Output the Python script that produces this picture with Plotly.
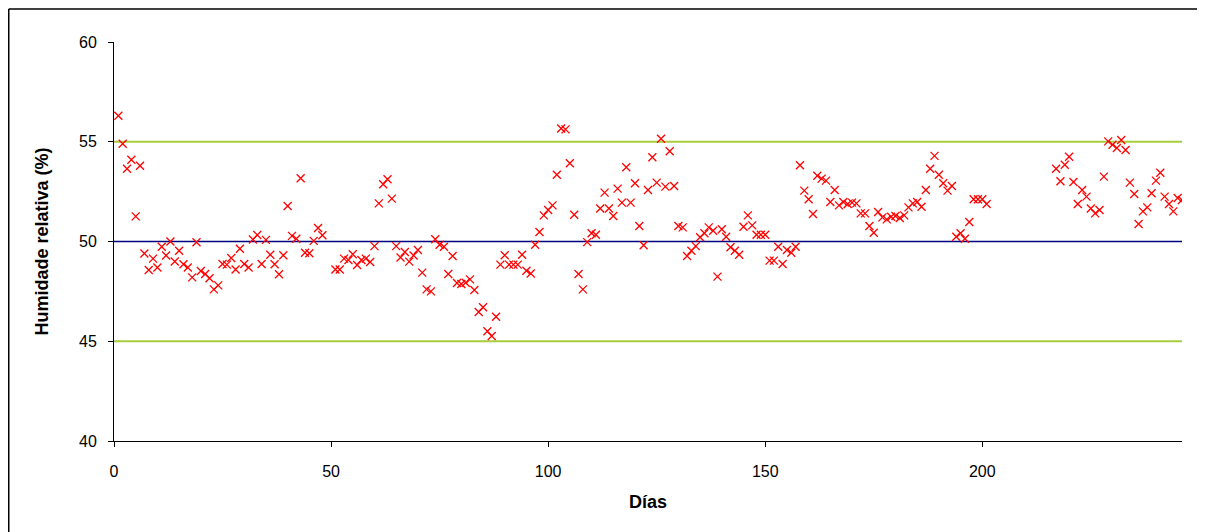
import plotly.graph_objects as go

days = list(range(1, 49)) + list(range(51, 202)) + list(range(217, 247))

hum_1_48 = [56.3, 54.9, 53.65, 54.1, 51.26, 53.8, 49.4, 48.57, 49.14, 48.7,
            49.74, 49.3, 50.0, 49.0, 49.54, 48.86, 48.7, 48.2, 49.96, 48.52,
            48.37, 48.16, 47.6, 47.8, 48.87, 48.84, 49.17, 48.6, 49.64, 48.87,
            48.7, 50.1, 50.33, 48.87, 50.08, 49.34, 48.86, 48.36, 49.31, 51.78,
            50.28, 50.14, 53.17, 49.44, 49.41, 50.03, 50.68, 50.31]
hum_51_100 = [48.6, 48.6, 49.14, 49.07, 49.36, 48.82, 49.07, 49.14, 48.97, 49.77,
              51.91, 52.87, 53.12, 52.15, 49.77, 49.2, 49.47, 48.99, 49.3, 49.57,
              48.44, 47.6, 47.5, 50.11, 49.84, 49.74, 48.37, 49.27, 47.92, 47.87,
              47.93, 48.1, 47.57, 46.47, 46.7, 45.5, 45.26, 46.23, 48.84, 49.31,
              48.84, 48.84, 48.84, 49.34, 48.53, 48.4, 49.84, 50.48, 51.31, 51.58]
hum_101_150 = [51.81, 53.35, 55.66, 55.62, 53.92, 51.34, 48.37, 47.6, 49.97, 50.41,
               50.34, 51.65, 52.45, 51.65, 51.28, 52.65, 51.95, 53.72, 51.95, 52.92,
               50.78, 49.81, 52.58, 54.22, 52.95, 55.15, 52.75, 54.52, 52.78, 50.78,
               50.71, 49.27, 49.54, 49.77, 50.21, 50.41, 50.71, 50.54, 48.24, 50.61,
               50.24, 49.71, 49.54, 49.34, 50.74, 51.31, 50.81, 50.34, 50.34, 50.34]
hum_151_201 = [49.04, 49.04, 49.74, 48.87, 49.57, 49.44, 49.74, 53.82, 52.55, 52.12,
               51.38, 53.3, 53.15, 53.05, 51.98, 52.58, 51.81, 51.98, 51.88, 51.95,
               51.91, 51.41, 51.41, 50.78, 50.44, 51.48, 51.21, 51.11, 51.24, 51.28,
               51.18, 51.31, 51.71, 51.91, 51.98, 51.74, 52.58, 53.65, 54.29, 53.35,
               52.92, 52.55, 52.78, 50.24, 50.41, 50.14, 50.98, 52.12, 52.12, 52.12,
               51.88]
hum_217_246 = [53.65, 53.02, 53.85, 54.25, 52.98, 51.88, 52.58, 52.25, 51.65, 51.41,
               51.58, 53.25, 55.02, 54.85, 54.69, 55.09, 54.59, 52.95, 52.38, 50.88,
               51.51, 51.71, 52.42, 53.05, 53.45, 52.25, 51.88, 51.51, 52.18, 52.08]

humidity = hum_1_48 + hum_51_100 + hum_101_150 + hum_151_201 + hum_217_246

limit_x = [0, 246]
upper_limit = [55, 55]
target = [50, 50]
lower_limit = [45, 45]

green = "#a8cc3c"
navy = "#000080"

fig = go.Figure()
fig.add_trace(go.Scatter(x=limit_x, y=upper_limit, mode="lines",
                         line=dict(color=green, width=2), hoverinfo="skip"))
fig.add_trace(go.Scatter(x=limit_x, y=target, mode="lines",
                         line=dict(color=navy, width=1.5), hoverinfo="skip"))
fig.add_trace(go.Scatter(x=limit_x, y=lower_limit, mode="lines",
                         line=dict(color=green, width=2), hoverinfo="skip"))
fig.add_trace(go.Scatter(x=days, y=humidity, mode="markers",
                         marker=dict(symbol="x-thin", size=8, color="#ff0000",
                                     line=dict(color="#ff0000", width=1.3))))

font_family = "Liberation Sans, Arial, sans-serif"

# The page body has an 8px margin, so the figure is sized/offset to compensate.
W, H = 1190, 524
L, R, T, B = 106, 16, 34, 91
pw, ph = W - L - R, H - T - B

fig.update_layout(
    width=W, height=H,
    margin=dict(l=L, r=R, t=T, b=B),
    paper_bgcolor="white", plot_bgcolor="white",
    showlegend=False,
    font=dict(family=font_family, size=16, color="black"),
    xaxis=dict(range=[0, 246], tickvals=[0, 50, 100, 150, 200],
               showline=True, linecolor="black", linewidth=1,
               ticks="outside", ticklen=5, tickcolor="black",
               showgrid=False, zeroline=False, ticklabelstandoff=11,
               title=dict(text="<b>Días</b>", font=dict(size=18), standoff=16),
               tickfont=dict(size=16)),
    yaxis=dict(range=[40, 60], tickvals=[40, 45, 50, 55, 60],
               showline=True, linecolor="black", linewidth=1,
               ticks="outside", ticklen=5, tickcolor="black",
               showgrid=False, zeroline=False, ticklabelstandoff=8,
               title=dict(text="<b>Humidade relativa (%)</b>", font=dict(size=18), standoff=25),
               tickfont=dict(size=16)),
    shapes=[
        dict(type="line", xref="paper", yref="paper",
             x0=(0.75 - L) / pw, x1=(0.75 - L) / pw,
             y0=-(B + 5) / ph, y1=(ph + T - 1) / ph,
             line=dict(color="black", width=1.5), layer="below"),
        dict(type="line", xref="paper", yref="paper",
             x0=(0.75 - L) / pw, x1=(W + 5 - L) / pw,
             y0=(ph + T - 1) / ph, y1=(ph + T - 1) / ph,
             line=dict(color="black", width=1.5), layer="below"),
    ],
)

fig.write_html("out.html")
